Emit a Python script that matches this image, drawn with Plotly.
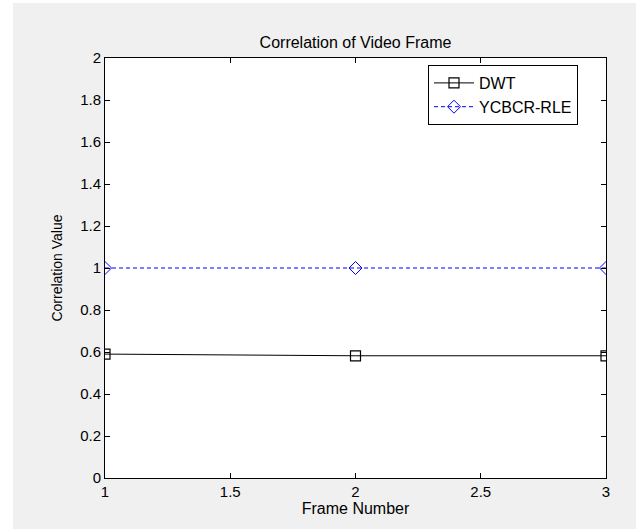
import plotly.graph_objects as go

frames = [1, 2, 3]
dwt = [0.59, 0.582, 0.582]
ycbcr = [1.0, 1.0, 1.0]
x_ticks = [1, 1.5, 2, 2.5, 3]
x_labels = ["1", "1.5", "2", "2.5", "3"]
y_ticks = [0, 0.2, 0.4, 0.6, 0.8, 1.0, 1.2, 1.4, 1.6, 1.8, 2.0]
y_labels = ["0", "0.2", "0.4", "0.6", "0.8", "1", "1.2", "1.4", "1.6", "1.8", "2"]

W, H = 636, 529
L, R, T, B = 105, 30, 58, 51
pw, ph = W - L - R, H - T - B

font = "Liberation Sans, Arial, sans-serif"

fig = go.Figure()
fig.add_trace(go.Scatter(
    x=frames, y=dwt, name="DWT", mode="lines+markers",
    line=dict(color="#000000", width=1),
    marker=dict(symbol="square-open", size=10, color="#000000", line=dict(width=1.2)),
))
fig.add_trace(go.Scatter(
    x=frames, y=ycbcr, name="YCBCR-RLE", mode="lines+markers",
    line=dict(color="#0000ff", width=1, dash="4px,3px"),
    marker=dict(symbol="diamond-open", size=10, color="#0000ff", line=dict(width=1)),
))

axis_common = dict(
    showgrid=False, zeroline=False, showline=True, linecolor="#000000", linewidth=1,
    mirror="ticks", ticks="inside", ticklen=5, tickcolor="#000000",
    tickfont=dict(family=font, size=15, color="#000000"),
)

fig.update_layout(
    width=W, height=H,
    margin=dict(l=L, r=R, t=T, b=B, pad=0),
    paper_bgcolor="#f0f0f0", plot_bgcolor="#ffffff",
    font=dict(family=font, size=15, color="#000000"),
    title=dict(text="Correlation of Video Frame", x=(L + pw / 2) / W, xanchor="center",
               y=1 - 42 / H, yanchor="middle", font=dict(family=font, size=16, color="#000000")),
    xaxis=dict(range=[1, 3], tickvals=x_ticks, ticktext=x_labels,
               title=dict(text="Frame Number", standoff=3, font=dict(family=font, size=16)),
               **axis_common),
    yaxis=dict(range=[0, 2], tickvals=y_ticks, ticktext=y_labels,
               title=dict(text="Correlation Value", standoff=14, font=dict(family=font, size=14)),
               **axis_common),
    legend=dict(x=(428 - L) / pw, y=(H - B - 65) / ph, xanchor="left", yanchor="top",
                bgcolor="#ffffff", bordercolor="#000000", borderwidth=1,
                font=dict(family=font, size=16, color="#000000"),
                tracegroupgap=0, itemwidth=40),
    showlegend=True,
    shapes=[
        dict(type="rect", xref="paper", yref="paper", x0=-L / pw, x1=-(L - 13) / pw,
             y0=-B / ph, y1=1 + T / ph, fillcolor="#ffffff", line=dict(width=0), layer="below"),
        dict(type="rect", xref="paper", yref="paper", x0=-L / pw, x1=1 + R / pw,
             y0=1 + (T - 3) / ph, y1=1 + T / ph, fillcolor="#ffffff", line=dict(width=0), layer="below"),
    ],
)

fig.write_html("out.html")
